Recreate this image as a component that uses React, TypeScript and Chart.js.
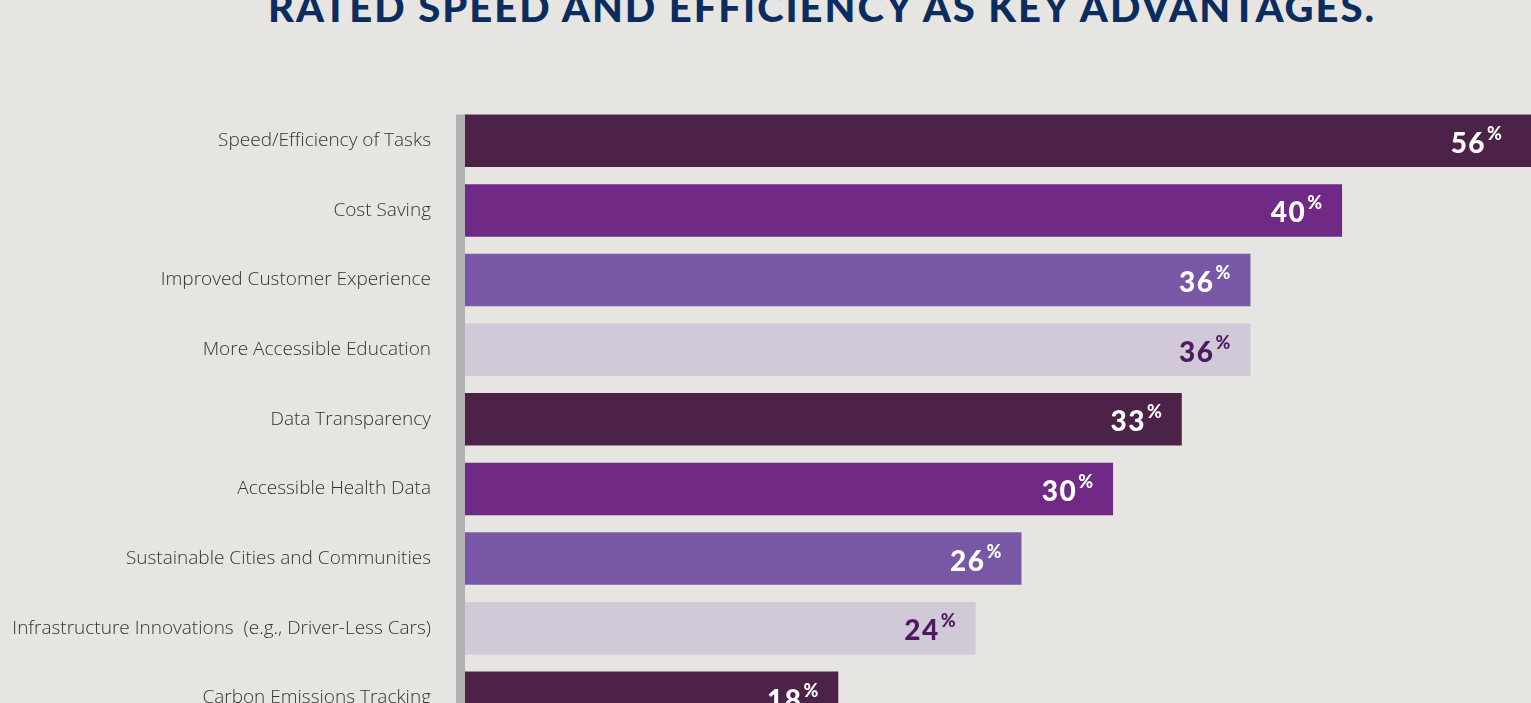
import React, { useEffect, useRef } from "react";
import { Chart, registerables } from "chart.js";

Chart.register(...registerables);

const categories = [
  "Speed/Efficiency of Tasks",
  "Cost Saving",
  "Improved Customer Experience",
  "More Accessible Education",
  "Data Transparency",
  "Accessible Health Data",
  "Sustainable Cities and Communities",
  "Infrastructure Innovations  (e.g., Driver-Less Cars)",
  "Carbon Emissions Tracking",
];
const values = [56, 40, 36, 36, 33, 30, 26, 24, 18];
const palette = ["#4d2249", "#702a86", "#7858a6", "#d1c8d8"];
const labelColors = ["#ffffff", "#ffffff", "#ffffff", "#4e1a5f"];
const titleText = "RATED SPEED AND EFFICIENCY AS KEY ADVANTAGES.";

const BG = "#e6e5e1";

const valueLabels = {
  id: "valueLabels",
  afterDatasetsDraw(chart: any) {
    const { ctx, chartArea } = chart;
    const meta = chart.getDatasetMeta(0);
    ctx.save();
    // axis stripe
    ctx.fillStyle = "#b1b1b1";
    ctx.fillRect(chartArea.left - 9, meta.data[0].y - meta.data[0].height / 2, 9, chartArea.bottom);
    meta.data.forEach((bar: any, i: number) => {
      const right = Math.min(bar.x, chartArea.right - 9) - 20;
      ctx.fillStyle = labelColors[i % labelColors.length];
      ctx.textAlign = "right";
      ctx.textBaseline = "alphabetic";
      (ctx as any).letterSpacing = "0px";
      ctx.font = "900 18px Lato";
      const pw = ctx.measureText("%").width;
      ctx.fillText("%", right, bar.y - 1);
      (ctx as any).letterSpacing = "1.5px";
      ctx.font = "900 28px Lato";
      ctx.fillText(String(values[i]), right - pw - 1, bar.y + 12);
    });
    ctx.restore();
  },
};

export default function App() {
  const ref = useRef<HTMLCanvasElement | null>(null);
  useEffect(() => {
    const chart = new Chart(ref.current!, {
      type: "bar",
      data: {
        labels: categories,
        datasets: [
          {
            data: values,
            backgroundColor: values.map((_, i) => palette[i % palette.length]),
            borderWidth: 0,
            barPercentage: 0.755,
            categoryPercentage: 1,
          },
        ],
      },
      options: {
        indexAxis: "y",
        animation: false,
        responsive: true,
        maintainAspectRatio: false,
        devicePixelRatio: 1,
        layout: { padding: { top: 106, right: 0, bottom: 0, left: 0 } },
        plugins: { legend: { display: false }, tooltip: { enabled: false }, title: { display: false } },
        scales: {
          x: { display: false, min: 1.7, max: 48.25 },
          y: {
            afterFit: (s: any) => {
              s.width = 465;
            },
            grid: { display: false, drawTicks: false },
            border: { display: false },
            ticks: {
              padding: 34,
              color: "#333333",
              font: { family: "'Open Sans'", size: 19, weight: 300 as any },
            },
          },
        },
      },
      plugins: [valueLabels],
    });
    return () => chart.destroy();
  }, []);
  return (
    <div
      style={{
        position: "fixed",
        left: 0,
        top: 0,
        width: 1531,
        height: 703,
        overflow: "hidden",
        background: BG,
      }}
    >
      <div
        style={{
          position: "absolute",
          left: 0,
          top: -17.5,
          width: 1644,
          textAlign: "center",
          fontFamily: "Lato",
          fontWeight: 900,
          fontSize: 40,
          letterSpacing: 2,
          color: "#0b2c5f",
          whiteSpace: "nowrap",
          lineHeight: "48px",
        }}
      >
        {titleText}
      </div>
      <div style={{ position: "absolute", left: 0, top: 0, width: 1531, height: 778 }}>
        <canvas ref={ref} />
      </div>
    </div>
  );
}
